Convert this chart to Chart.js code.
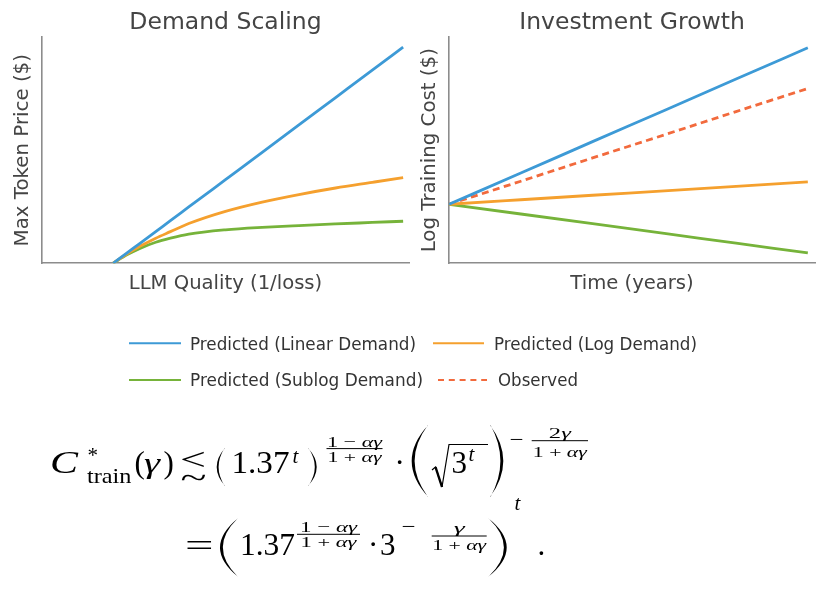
<!DOCTYPE html>
<html>
<head>
<meta charset="utf-8">
<script src="https://cdn.jsdelivr.net/npm/chart.js@4.4.1/dist/chart.umd.min.js"></script>
<style>
  html, body { margin: 0; padding: 0; background: #fff; }
  #page { position: relative; width: 829px; height: 591px; overflow: hidden; }
  .box { position: absolute; top: 0; height: 300px; }
  #left { left: 0; width: 415px; }
  #right { left: 415px; width: 414px; }
  #overlay { position: absolute; left: 0; top: 0; }
</style>
</head>
<body>
<div id="page">
  <div class="box" id="left"><canvas id="demandChart"></canvas></div>
  <div class="box" id="right"><canvas id="investChart"></canvas></div>
  <svg id="overlay" width="829" height="591"></svg>
</div>
<script>
// series shared by both panels
const seriesLabels = [
  "Predicted (Linear Demand)",
  "Predicted (Log Demand)",
  "Predicted (Sublog Demand)",
  "Observed",
];
const seriesColors = ["#3d9ad6", "#f5a02e", "#76b33a", "#f26a3d"];

// Demand Scaling (no tick values on the axes, arbitrary units 0-10)
const quality = [1.94, 2.3, 2.67, 3.1, 3.5, 4, 5, 6, 7, 8, 9, 9.84];
const linearPrice = [0, 0.44, 0.88, 1.4, 1.89, 2.49, 3.7, 4.91, 6.12, 7.33, 8.54, 9.56];
const logPrice = [0, 0.4, 0.75, 1.11, 1.4, 1.76, 2.3, 2.71, 3.04, 3.33, 3.58, 3.79];
const sublogPrice = [0, 0.36, 0.66, 0.93, 1.11, 1.29, 1.48, 1.59, 1.67, 1.74, 1.805, 1.86];

// Investment Growth
const years = [0, 2, 4, 6, 8, 10];
const linearCost = [2.61, 3.99, 5.38, 6.76, 8.15, 9.53];
const logCost = [2.61, 2.81, 3.01, 3.2, 3.4, 3.6];
const sublogCost = [2.61, 2.18, 1.75, 1.32, 0.89, 0.46];
const observedCost = [2.61, 3.63, 4.66, 5.68, 6.71, 7.73];

Chart.defaults.font.family = "DejaVu Sans";
Chart.defaults.color = "#444";

function pts(xs, ys) {
  return xs.map((x, i) => ({ x: x, y: ys[i] }));
}

function line(idx, data, dashed) {
  return {
    label: seriesLabels[idx],
    data: data,
    borderColor: seriesColors[idx],
    borderWidth: 2.8,
    borderDash: dashed ? [7, 4.5] : [],
    pointRadius: 0,
    cubicInterpolationMode: "monotone",
    fill: false,
  };
}

function panel(id, title, xTitle, yTitle, xMax, datasets, pad, yPad) {
  return new Chart(document.getElementById(id), {
    type: "line",
    data: { datasets: datasets },
    options: {
      responsive: true,
      maintainAspectRatio: false,
      animation: false,
      layout: { padding: pad },
      plugins: {
        legend: { display: false },
        tooltip: { enabled: false },
        title: {
          display: true,
          fullSize: false,
          text: title,
          color: "#444",
          font: { size: 23.5, weight: "normal" },
          padding: { top: 9, bottom: 0 },
        },
      },
      scales: {
        x: {
          type: "linear",
          min: 0,
          max: xMax,
          ticks: { display: false },
          grid: { display: false, drawTicks: false },
          border: { display: true, color: "#8c8c8c", width: 1.6 },
          title: {
            display: true,
            text: xTitle,
            color: "#444",
            font: { size: 19.6 },
            padding: { top: 9, bottom: 4.2 },
          },
        },
        y: {
          type: "linear",
          min: 0,
          max: 10,
          ticks: { display: false },
          grid: { display: false, drawTicks: false },
          border: { display: true, color: "#8c8c8c", width: 1.6 },
          title: {
            display: true,
            text: yTitle,
            color: "#444",
            font: { size: 19.8 },
            padding: yPad,
          },
        },
      },
    },
  });
}

panel("demandChart", "Demand Scaling", "LLM Quality (1/loss)", "Max Token Price ($)", 10, [
  line(0, pts(quality, linearPrice)),
  line(1, pts(quality, logPrice)),
  line(2, pts(quality, sublogPrice)),
], { left: 6.7, right: 6, top: 0, bottom: 0 }, { top: 4, bottom: 7.5 });

panel("investChart", "Investment Growth", "Time (years)", "Log Training Cost ($)", 10.2, [
  line(0, pts(years, linearCost)),
  line(1, pts(years, logCost)),
  line(2, pts(years, sublogCost)),
  line(3, pts(years, observedCost), true),
], { left: 0, right: 14, top: 0, bottom: 0 }, { top: 3.2, bottom: 7.1 });

// ---- shared legend + formula (svg) ----
const NS = "http://www.w3.org/2000/svg";
const svg = document.getElementById("overlay");
function el(name, attrs, text) {
  const e = document.createElementNS(NS, name);
  for (const k in attrs) e.setAttribute(k, attrs[k]);
  if (text !== undefined) e.textContent = text;
  svg.appendChild(e);
  return e;
}

// legend slots: line x1, x2, y, text x, baseline, text width
const legendSlots = [
  [129, 181, 343.3, 190, 349.5, 226],
  [433, 484, 343.3, 494, 349.5, 203],
  [129, 181, 380, 190, 386, 233],
  [438, 487, 380, 498, 386, 80],
];
legendSlots.forEach((s, i) => {
  el("line", {
    x1: s[0], x2: s[1], y1: s[2], y2: s[2],
    stroke: seriesColors[i], "stroke-width": 2,
    "stroke-dasharray": i === 3 ? "6 4.8" : "none",
  });
  el("text", {
    x: s[3], y: s[4], "font-family": "DejaVu Sans", "font-size": 18.5, fill: "#333",
    textLength: s[5], lengthAdjust: "spacingAndGlyphs",
  }, seriesLabels[i]);
});

// formula
function mixed(x, y, parts, size, opts) {
  opts = opts || {};
  const a = { x: x, y: y, "font-family": "Liberation Serif", "font-size": size, fill: "#000" };
  if (opts.anchor) a["text-anchor"] = opts.anchor;
  if (opts.width) { a.textLength = opts.width; a.lengthAdjust = opts.adjust || "spacingAndGlyphs"; }
  const t = el("text", a);
  parts.forEach(p => {
    const sp = document.createElementNS(NS, "tspan");
    if (p[1]) sp.setAttribute("font-style", "italic");
    sp.textContent = p[0];
    t.appendChild(sp);
  });
  return t;
}
function txt(x, y, s, size, italic, width) {
  return mixed(x, y, [[s, italic]], size, { width: width });
}
// thin TeX-like delimiter: crescent between x0 (apex side) and x1 (ends)
function paren(open, x0, x1, yt, yb, w) {
  const ym = (yt + yb) / 2;
  let apex = open ? x0 : x1, ends = open ? x1 : x0, dir = open ? 1 : -1;
  const cOut = 2 * apex - ends;
  const cIn = 2 * (apex + dir * w) - (ends - dir * 0.7);
  const e2 = ends - dir * 0.7;
  el("path", {
    d: "M" + ends + "," + yt + " Q" + cOut + "," + ym + " " + ends + "," + yb +
       " L" + e2 + "," + (yb - 0.6) + " Q" + cIn + "," + ym + " " + e2 + "," + (yt + 0.6) + " Z",
    fill: "#000",
  });
}
function frac(x1, x2, numY, barY, denY, num, den, size, numW, denW) {
  const cx = (x1 + x2) / 2;
  mixed(cx, numY, num, size, { anchor: "middle", width: numW });
  el("line", { x1: x1, x2: x2, y1: barY, y2: barY, stroke: "#000", "stroke-width": 1 });
  mixed(cx, denY, den, size, { anchor: "middle", width: denW });
}
const NUM_A = [["1 − "], ["αγ", 1]];
const DEN_A = [["1 + "], ["αγ", 1]];

// line 1
txt(50, 473, "C", 32, 1, 28);
txt(87.5, 462, "*", 21);
txt(87, 483, "train", 22, 0, 44.5);
txt(134.5, 473, "(", 31);
txt(144, 473, "γ", 30, 1, 16);
txt(163.5, 473, ")", 31);
txt(180, 469.5, "<", 31, 0, 26);   // \lesssim built from < and ~
txt(180.5, 488, "~", 30, 0, 26);
paren(true, 216.7, 225, 448, 486, 1.9);
txt(231.5, 473, "1.37", 31, 0, 58);
txt(292.5, 463, "t", 21, 1);
paren(false, 308, 316.7, 448, 486, 1.9);
frac(326.5, 382.5, 446.7, 448.6, 461.7, NUM_A, DEN_A, 15.5, 55, 54);
txt(394.5, 473, "·", 31);
paren(true, 411.7, 428.3, 425, 497, 2.9);
el("path", { d: "M432,470 L435.5,467 L442,487 L449,444.5 L488,444.5", fill: "none", stroke: "#000", "stroke-width": 1.2, "stroke-linejoin": "miter" });
el("line", { x1: 435.5, y1: 467, x2: 442, y2: 487, stroke: "#000", "stroke-width": 2.4 });
txt(451.5, 473, "3", 31);
txt(468.5, 461, "t", 21, 1);
paren(false, 490, 503.3, 425, 497, 2.9);
txt(509.5, 446, "−", 20, 0, 14);
frac(531.7, 588, 438.3, 440.7, 456.7, [["2"], ["γ", 1]], DEN_A, 15.5, 22, 54);

// line 2
txt(185, 556, "=", 31, 0, 28.5);
paren(true, 220, 238.3, 518, 577, 2.8);
txt(240, 555, "1.37", 31, 0, 55);
frac(297, 360, 531.7, 534.3, 546.7, NUM_A, DEN_A, 15.5, 57, 56);
txt(368, 555, "·", 31);
txt(380, 555, "3", 31);
txt(401.5, 533, "−", 20, 0, 14);
frac(431.7, 486.7, 533.3, 536, 550, [["γ", 1]], DEN_A, 15.5, 11, 54);
paren(false, 488, 506.7, 518, 577, 2.8);
txt(514.5, 510, "t", 21, 1);
txt(537.5, 555, ".", 31);
</script>
</body>
</html>
